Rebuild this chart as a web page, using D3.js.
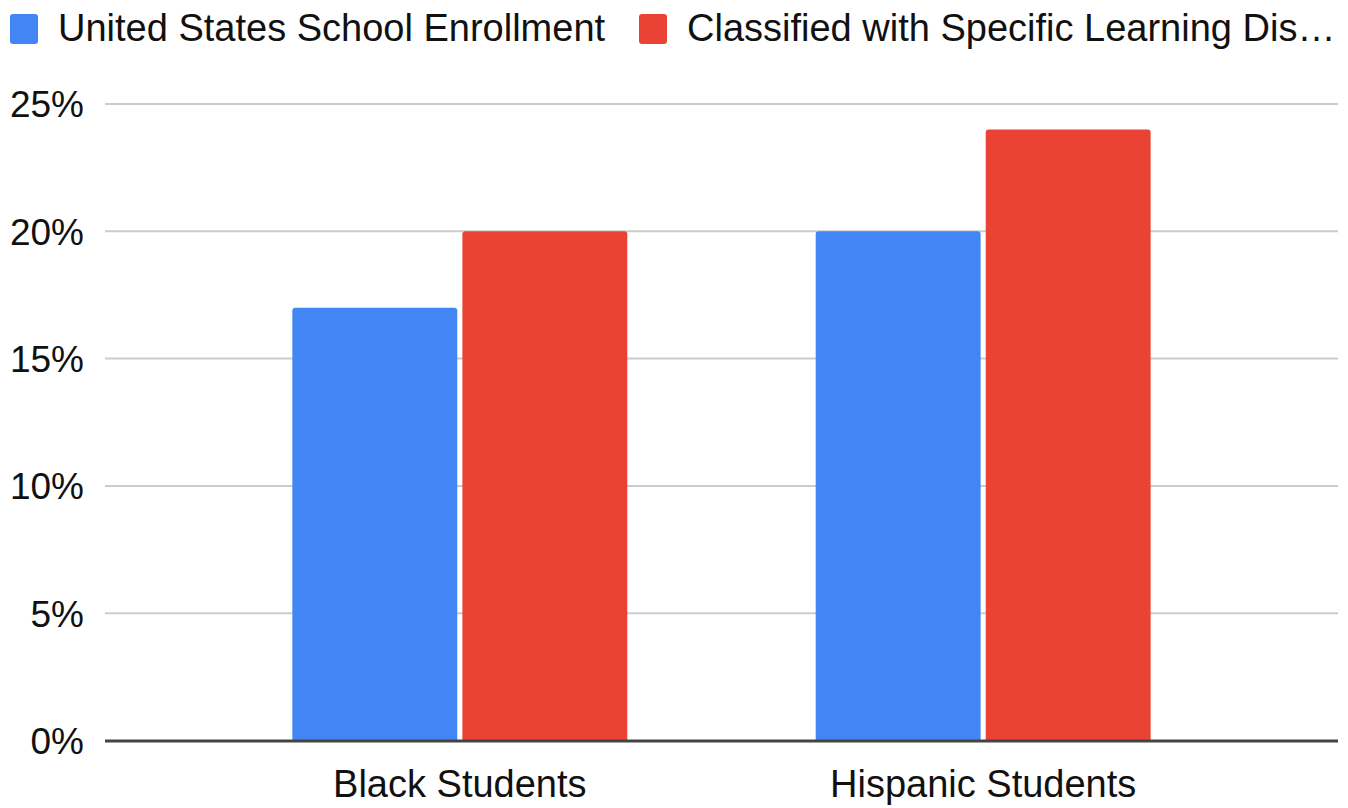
<!DOCTYPE html>
<html>
<head>
<meta charset="utf-8">
<script src="https://cdn.jsdelivr.net/npm/d3@7"></script>
<style>
  body { margin: 0; background: #fff; }
  svg text { font-family: "Liberation Sans", Arial, Helvetica, sans-serif; fill: #111; }
</style>
</head>
<body>
<svg></svg>
<script>
var svgWidth = 1348, svgHeight = 808;

// data
var categories = ["Black Students", "Hispanic Students"];
var seriesNames = ["United States School Enrollment", "Classified with Specific Learning Disabilities"];
var seriesColors = ["#4285f4", "#ea4335"];
var enrollment = [17, 20];
var learningDisability = [20, 24];
var yTicks = [0, 5, 10, 15, 20, 25];

var seriesValues = [enrollment, learningDisability];

var svg = d3.select("svg")
            .attr("width", svgWidth)
            .attr("height", svgHeight);

var plotLeft = 105, plotRight = 1338, plotTop = 104, plotBottom = 740.5;

var y = d3.scaleLinear().domain([0, 25]).range([plotBottom, plotTop]);

var x0 = d3.scaleBand()
           .domain(categories)
           .range([plotLeft, plotRight])
           .paddingInner(0.36)
           .paddingOuter(0.358);

var x1 = d3.scaleBand()
           .domain(d3.range(seriesNames.length))
           .range([0, x0.bandwidth()])
           .paddingInner(0.03);

// gridlines
svg.append("g")
   .selectAll("line")
   .data(yTicks.filter(function(d) { return d > 0; }))
   .enter().append("line")
     .attr("x1", plotLeft)
     .attr("x2", plotRight)
     .attr("y1", function(d) { return y(d); })
     .attr("y2", function(d) { return y(d); })
     .attr("stroke", "#cccccc")
     .attr("stroke-width", 2);

// y labels
svg.append("g")
   .selectAll("text")
   .data(yTicks)
   .enter().append("text")
     .attr("x", 84)
     .attr("y", function(d) { return y(d); })
     .attr("dy", "0.36em")
     .attr("text-anchor", "end")
     .style("font-size", "37px")
     .text(function(d) { return d + "%"; });

// bars with rounded top corners
function barPath(x, yTop, w, h, r) {
    r = Math.min(r, h, w / 2);
    return "M" + x + "," + (yTop + h) +
           "V" + (yTop + r) +
           "Q" + x + "," + yTop + " " + (x + r) + "," + yTop +
           "H" + (x + w - r) +
           "Q" + (x + w) + "," + yTop + " " + (x + w) + "," + (yTop + r) +
           "V" + (yTop + h) + "Z";
}

var groups = svg.append("g")
   .selectAll("g")
   .data(categories)
   .enter().append("g")
     .attr("transform", function(d) { return "translate(" + x0(d) + ",0)"; });

groups.selectAll("path")
   .data(function(d, i) {
       return seriesValues.map(function(vals, s) { return { s: s, v: vals[i] }; });
   })
   .enter().append("path")
     .attr("fill", function(d) { return seriesColors[d.s]; })
     .attr("d", function(d) {
         return barPath(x1(d.s), y(d.v), x1.bandwidth(), y(0) - y(d.v), 3);
     });

// baseline
svg.append("line")
   .attr("x1", plotLeft)
   .attr("x2", plotRight)
   .attr("y1", y(0) + 0.5)
   .attr("y2", y(0) + 0.5)
   .attr("stroke", "#444")
   .attr("stroke-width", 3);

// x labels
svg.append("g")
   .selectAll("text")
   .data(categories)
   .enter().append("text")
     .attr("x", function(d) { return x0(d) + x0.bandwidth() / 2; })
     .attr("y", 797)
     .attr("text-anchor", "middle")
     .style("font-size", "38px")
     .text(function(d) { return d; });

// legend
var legendX = [10, 639];
var legendMaxWidth = [600, 652];
var legend = svg.append("g")
   .selectAll("g")
   .data(seriesNames)
   .enter().append("g")
     .attr("transform", function(d, i) { return "translate(" + legendX[i] + ",0)"; });

legend.append("rect")
   .attr("x", 0)
   .attr("y", 14)
   .attr("width", 28)
   .attr("height", 30)
   .attr("rx", 3)
   .attr("fill", function(d, i) { return seriesColors[i]; });

legend.append("text")
   .attr("x", 48)
   .attr("y", 41)
   .style("font-size", "38px")
   .text(function(d) { return d; })
   .each(function(d, i) {
       var t = d3.select(this);
       if (this.getComputedTextLength() <= legendMaxWidth[i]) return;
       var s = d;
       while (s.length > 1) {
           s = s.slice(0, -1);
           t.text(s.trim() + "\u2026");
           if (this.getComputedTextLength() <= legendMaxWidth[i]) break;
       }
   });
</script>
</body>
</html>
